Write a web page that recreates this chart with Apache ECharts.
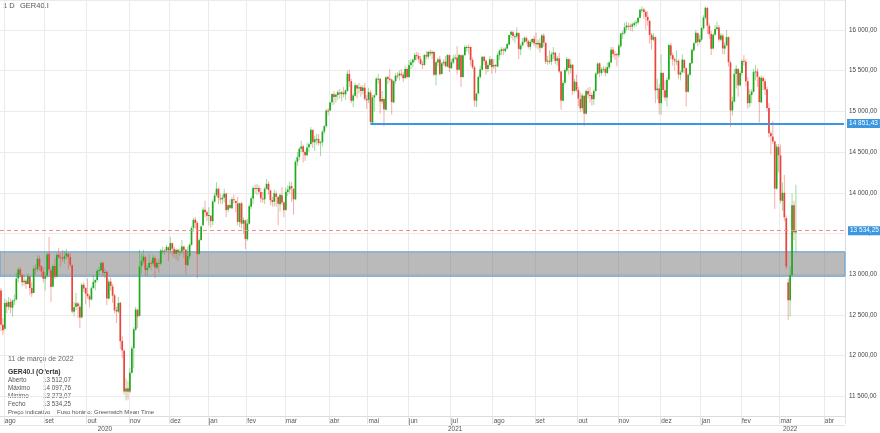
<!DOCTYPE html>
<html><head><meta charset="utf-8">
<script src="https://cdn.jsdelivr.net/npm/echarts@6.0.0/dist/echarts.min.js"></script>
<style>html,body{margin:0;padding:0;background:#fff}#c{width:880px;height:433px}</style>
</head><body><div id="c"></div>
<script>
// ---- DATA (rows: [open, close, low, high]) ----
const monthNames = ['jan','fev','mar','abr','mai','jun','jul','ago','set','out','nov','dez'];
const holidays = ['2020-12-24','2020-12-25','2020-12-31','2021-01-01','2021-04-02','2021-04-05','2021-12-24','2021-12-31','2022-04-15','2022-04-18'];
const firstDate = '2020-07-30';
const categoryCount = 439;
const yearLabelDates = ['2020-10-14','2021-07-05','2022-03-08'];
const supportLevel = 14851.43;
const supportFrom = '2021-05-04';
const lastPrice = 13534.25;
const zoneLow = 12975, zoneHigh = 13275;
const infoDate = '11 de março de 2022';
const infoSymbol = 'GER40.I (Oferta)';
const infoLabels = ['Aberto','Máximo','Mínimo','Fecho'];
const infoValues = [13512.07, 14097.76, 13273.07, 13534.25];

const jul2020 = [[12800,12379,12300,12830],[12380,12313,12253,12460]];
const aug2020 = [[12330,12647,12320,12700],[12650,12600,12520,12680],[12600,12660,12560,12720],[12660,12591,12520,12700],[12590,12675,12480,12690],
[12680,12687,12620,12750],[12690,12947,12680,13020],[12950,13058,12900,13080],[13060,12994,12960,13090],[12990,12901,12850,13010],
[12900,12920,12860,12990],[12920,12881,12820,12950],[12880,12977,12870,13010],[12970,12830,12740,12980],[12830,12765,12720,12900],
[12770,13067,12770,13100],[13070,13062,13000,13120],[13060,13190,13030,13230],[13190,13096,13040,13230],[13100,13033,12960,13110],[13030,12945,12900,13080]];
const sep2020 = [[12945,12974,12800,13020],[12980,13243,12960,13270],[13250,13057,13020,13460],[13050,12842,12660,13080],
[12850,13100,12840,13120],[13100,12968,12940,13190],[12970,13237,12960,13260],[13240,13209,13180,13320],[13210,13202,13090,13260],
[13200,13193,13150,13300],[13190,13218,13130,13280],[13220,13255,13180,13310],[13250,13208,13060,13260],[13210,13116,13090,13260],
[13110,12542,12520,13120],[12540,12594,12480,12660],[12600,12643,12560,12770],[12640,12606,12460,12660],[12600,12469,12340,12640],
[12470,12870,12460,12890],[12870,12825,12780,12900],[12830,12761,12630,12840]];
const oct2020 = [[12760,12731,12700,12950],[12730,12689,12590,12750],
[12690,12828,12680,12850],[12830,12906,12820,12990],[12900,12928,12800,12940],[12930,13042,12900,13060],[13040,13051,12990,13090],
[13050,13138,13040,13160],[13140,13019,12980,13150],[13020,13028,12950,13070],[13030,12703,12620,13040],[12700,12909,12690,12940],
[12910,12854,12800,12960],[12850,12736,12650,12880],[12740,12558,12520,12760],[12560,12543,12400,12600],[12540,12646,12520,12720],
[12650,12178,12080,12660],[12180,12064,11970,12240],[12060,11561,11520,12080],[11560,11598,11450,11720],[11600,11556,11460,11690]];
const nov2020 = [[11560,11789,11540,11850],[11790,12089,11780,12120],[12090,12325,11850,12350],[12320,12568,12300,12600],[12560,12480,12340,12580],
[12490,13096,12480,13300],[13100,13163,13010,13250],[13160,13217,13120,13300],[13210,13053,12980,13230],[13050,13077,12980,13110],
[13080,13138,13070,13250],[13140,13134,13050,13170],[13130,13202,13100,13240],[13200,13086,12950,13220],[13080,13137,13060,13180],
[13140,13127,13020,13190],[13130,13292,13110,13310],[13290,13290,13250,13340],[13290,13286,13240,13310],[13290,13335,13270,13360],[13330,13291,13160,13340]];
const dec2020 = [[13290,13382,13250,13460],[13380,13313,13220,13390],[13310,13252,13200,13340],[13250,13298,13180,13320],
[13300,13271,13160,13310],[13270,13278,13220,13320],[13280,13340,13250,13420],[13340,13296,13200,13350],[13300,13114,13000,13310],
[13110,13223,13100,13340],[13220,13362,13180,13380],[13360,13566,13350,13590],[13570,13667,13520,13690],[13670,13630,13560,13700],
[13630,13246,12950,13650],[13250,13418,13240,13440],[13420,13587,13410,13600],
[13600,13790,13590,13820],[13790,13761,13700,13900],[13760,13719,13650,13780]];
const jan2021 = [[13720,13727,13600,13820],[13720,13652,13570,13700],[13650,13892,13600,13920],[13890,13968,13880,14000],[13970,14050,13950,14131],
[14050,13937,13860,14060],[13930,13926,13870,13990],[13920,13940,13860,13980],[13940,13989,13880,14050],[13990,13788,13700,14000],
[13790,13848,13760,13860],[13850,13815,13800,13920],[13810,13921,13800,13950],[13920,13907,13870,13980],[13900,13874,13760,13900],
[13870,13643,13600,13950],[13640,13871,13580,13880],[13870,13621,13560,13890],[13620,13665,13500,13700],[13660,13433,13310,13670]];
const feb2021 = [[13430,13622,13410,13680],[13620,13835,13610,13860],[13830,13933,13800,13960],[13930,14060,13860,14080],[14060,14056,13990,14100],
[14050,14059,13970,14110],[14060,14011,13980,14090],[14010,13932,13880,14060],[13930,13921,13880,14010],[13920,14050,13860,14070],
[14050,14109,14040,14170],[14110,14033,13980,14140],[14030,13909,13850,14030],[13910,13886,13830,13950],[13890,13993,13830,14040],
[13990,13950,13830,14020],[13950,13865,13600,13910],[13860,13976,13770,13990],[13970,13879,13850,14070],[13880,13786,13700,13900]];
const mar2021 = [[13790,14012,13780,14060],[14010,14039,13960,14090],[14040,14080,13990,14140],[14080,14056,13890,14130],[14050,13920,13730,14050],
[13920,14380,13910,14400],[14380,14437,14330,14500],[14440,14540,14400,14560],[14540,14569,14500,14640],[14570,14502,14370,14590],
[14500,14461,14390,14520],[14460,14557,14450,14610],[14560,14596,14500,14620],[14600,14775,14580,14805],[14770,14621,14550,14780],
[14620,14657,14510,14700],[14660,14662,14590,14720],[14660,14610,14580,14720],[14610,14621,14450,14640],[14620,14749,14570,14770],
[14750,14818,14720,14830],[14820,15009,14800,15030],[15010,15008,14950,15040]];
const apr2021 = [[15010,15107,15000,15120],
[15110,15212,15080,15220],[15210,15176,15080,15250],[15180,15203,15110,15220],[15200,15234,15140,15260],
[15230,15215,15160,15270],[15210,15234,15120,15250],[15230,15209,15170,15300],[15210,15255,15140,15270],[15250,15460,15240,15500],
[15460,15368,15300,15510],[15370,15129,15100,15400],[15130,15195,15050,15220],[15190,15320,15180,15350],[15320,15280,15160,15330],
[15280,15296,15220,15350],[15300,15249,15180,15320],[15250,15292,15210,15320],[15290,15154,15130,15350],[15150,15136,15030,15200]];
const may2021 = [[15140,15237,15100,15290],[15230,14870,14840,15260],[14860,15171,14850,15200],[15170,15197,15000,15210],[15200,15400,15190,15420],
[15400,15400,15340,15460],[15400,15120,14970,15410],[15120,15150,15090,15250],[15150,15025,14816,15170],[15020,15417,15010,15430],
[15420,15397,15330,15440],[15400,15386,15360,15520],[15390,15113,14960,15400],[15110,15370,15100,15380],[15370,15437,15340,15470],
[15440,15437,15400,15480],[15440,15465,15380,15500],[15460,15451,15420,15520],[15450,15406,15360,15480],[15410,15520,15400,15560],[15520,15421,15400,15540]];
const jun2021 = [[15420,15568,15410,15630],[15570,15603,15520,15640],[15600,15633,15540,15650],[15630,15693,15600,15720],
[15690,15677,15630,15730],[15680,15641,15600,15720],[15640,15581,15570,15680],[15580,15571,15520,15620],[15570,15693,15560,15700],
[15690,15674,15640,15740],[15670,15730,15640,15740],[15730,15710,15680,15760],[15710,15728,15640,15750],[15730,15448,15430,15740],
[15450,15603,15320,15620],[15600,15636,15550,15660],[15640,15456,15440,15680],[15460,15589,15450,15610],[15590,15607,15560,15640],
[15610,15554,15540,15680],[15550,15691,15540,15700],[15690,15531,15480,15700]];
const jul2021 = [[15530,15603,15520,15640],[15600,15650,15580,15690],
[15650,15661,15630,15700],[15660,15511,15450,15800],[15510,15693,15500,15710],[15690,15420,15300,15700],[15420,15688,15410,15700],
[15690,15791,15680,15810],[15790,15790,15730,15810],[15790,15788,15700,15820],[15790,15629,15560,15800],[15630,15540,15520,15660],
[15540,15133,15060,15560],[15130,15216,15050,15230],[15220,15422,15210,15440],[15420,15514,15400,15560],[15510,15669,15500,15680],
[15670,15618,15570,15680],[15620,15519,15450,15640],[15520,15570,15480,15600],[15570,15640,15550,15680],[15640,15544,15460,15650]];
const aug2021 = [[15550,15568,15520,15640],[15570,15555,15470,15580],[15550,15692,15540,15720],[15690,15745,15630,15760],[15740,15761,15690,15790],
[15760,15745,15690,15780],[15740,15770,15720,15790],[15770,15826,15760,15840],[15820,15937,15810,15940],[15940,15977,15900,15990],
[15970,15925,15870,15990],[15920,15921,15840,15950],[15920,15965,15890,16030],[15960,15766,15640,15970],[15760,15808,15690,15830],
[15810,15852,15800,15900],[15850,15905,15840,15920],[15900,15860,15830,15920],[15860,15793,15770,15880],[15790,15852,15750,15880],
[15850,15888,15830,15900],[15890,15835,15800,15930]];
const sep2021 = [[15840,15824,15780,15970],[15820,15841,15760,15880],[15840,15781,15720,15900],
[15780,15932,15770,15950],[15930,15843,15790,15960],[15840,15610,15580,15850],[15610,15623,15570,15680],[15620,15610,15580,15750],
[15610,15701,15570,15730],[15700,15722,15640,15790],[15720,15616,15580,15730],[15620,15651,15560,15680],[15650,15490,15470,15720],
[15490,15132,15020,15500],[15130,15349,15120,15380],[15350,15506,15330,15530],[15500,15644,15480,15670],[15640,15532,15450,15650],
[15530,15574,15470,15640],[15570,15249,15200,15580],[15250,15365,15230,15400],[15360,15260,15240,15450]];
const oct2021 = [[15260,15156,15060,15300],
[15150,15036,14990,15230],[15040,15195,15000,15220],[15190,14973,14818,15200],[14970,15250,14960,15270],[15250,15206,15160,15290],
[15200,15199,15110,15300],[15200,15147,15070,15230],[15150,15250,15080,15270],[15250,15463,15240,15480],[15460,15587,15450,15600],
[15590,15474,15420,15600],[15470,15516,15440,15540],[15520,15523,15480,15560],[15520,15473,15430,15550],[15470,15543,15460,15600],
[15540,15600,15520,15620],[15600,15757,15590,15790],[15760,15705,15660,15790],[15700,15696,15630,15740],[15700,15689,15550,15720]];
const nov2021 = [[15690,15806,15660,15830],[15800,15955,15780,15960],[15950,15960,15890,15990],[15960,16030,15940,16090],[16030,16054,15990,16100],
[16050,16047,16000,16090],[16050,16040,15990,16080],[16040,16068,15980,16090],[16060,16083,16030,16110],[16080,16094,16040,16120],
[16090,16148,16070,16160],[16150,16248,16140,16260],[16250,16251,16210,16290],[16250,16221,16130,16270],[16220,16160,16000,16240],
[16160,16115,16050,16230],[16110,15937,15830,16120],[15940,15878,15760,15960],[15880,15917,15860,15960],[15910,15257,15100,15920],
[15260,15280,15150,15400],[15280,15100,14960,15340]];
const dec2021 = [[15100,15473,14960,15700],[15470,15263,15170,15480],[15260,15170,15130,15380],
[15170,15387,15060,15420],[15390,15813,15380,15830],[15810,15687,15640,15840],[15690,15639,15560,15720],[15640,15623,15500,15660],
[15620,15621,15570,15750],[15620,15453,15400,15640],[15450,15476,15380,15500],[15480,15636,15470,15700],[15630,15532,15470,15640],
[15530,15239,15060,15540],[15240,15448,15230,15470],[15450,15593,15430,15600],[15590,15756,15580,15770],
[15750,15837,15730,15850],[15840,15964,15830,16000],[15960,15853,15800,15970],[15850,15885,15830,15940]];
const jan2022 = [[15880,16021,15860,16040],[16020,16152,16000,16180],[16150,16271,16130,16285],[16270,16052,15950,16280],[16050,15948,15890,16080],
[15950,15768,15690,15990],[15770,15941,15760,15960],[15940,16010,15930,16060],[16010,16031,15990,16100],[16030,15883,15850,16060],
[15880,15933,15860,15960],[15930,15773,15700,15950],[15770,15810,15700,15850],[15810,15912,15800,16000],[15910,15603,15550,15920],
[15600,15011,14806,15620],[15010,15123,14950,15180],[15120,15460,15110,15520],[15460,15524,15280,15570],[15520,15318,15180,15530],[15320,15471,15300,15500]];
const feb2022 = [[15470,15619,15440,15640],[15620,15613,15560,15690],[15610,15368,15310,15640],[15370,15100,15030,15420],
[15100,15206,15050,15270],[15200,15242,15100,15270],[15240,15482,15230,15520],[15480,15490,15380,15570],[15490,15425,15300,15530],
[15420,15114,14860,15430],[15110,15412,15100,15440],[15410,15370,15260,15430],[15370,15268,15200,15400],[15270,15042,15000,15300],
[15040,14731,14680,15100],[14730,14693,14470,14750],[14690,14631,14600,14880],[14630,14052,13800,14640],[14050,14567,14040,14600],
[14560,14461,14250,14600]];
const mar2022 = [[14460,13905,13870,14590],[13900,14000,13780,14130],[14000,13698,13650,14220],[13690,13094,13060,13720],
[12900,12680,12440,12950],[12680,12990,12480,13100],[12990,13848,12970,13990],[13848,13515,13420,13900],[13512.07,13534.25,13273.07,14097.76]];

const monthData = [['2020-07',jul2020],['2020-08',aug2020],['2020-09',sep2020],['2020-10',oct2020],['2020-11',nov2020],['2020-12',dec2020],
['2021-01',jan2021],['2021-02',feb2021],['2021-03',mar2021],['2021-04',apr2021],['2021-05',may2021],['2021-06',jun2021],
['2021-07',jul2021],['2021-08',aug2021],['2021-09',sep2021],['2021-10',oct2021],['2021-11',nov2021],['2021-12',dec2021],
['2022-01',jan2022],['2022-02',feb2022],['2022-03',mar2022]];

// ---- trading-day categories ----
function buildCalendar(start, count){
  const out=[]; const d=new Date(start+'T00:00:00Z');
  while(out.length<count){
    const wd=d.getUTCDay(); const s=d.toISOString().slice(0,10);
    if(wd!==0&&wd!==6&&holidays.indexOf(s)<0) out.push(s);
    d.setUTCDate(d.getUTCDate()+1);
  }
  return out;
}
const cats = buildCalendar(firstDate, categoryCount);
const candles = [];
monthData.forEach(([key, rows])=>{
  const idxs = []; cats.forEach((c,i)=>{ if(c.slice(0,7)===key) idxs.push(i); });
  rows.forEach((r,k)=>{ candles.push([idxs[k], r[0], r[1], r[2], r[3]]); });
});
function isMonthStart(i){ return i>0 && cats[i].slice(5,7)!==cats[i-1].slice(5,7); }
function fmtNum(v){ const s=Number(v).toFixed(2).split('.'); return s[0].replace(/\B(?=(\d{3})+(?!\d))/g,' ')+','+s[1]; }

const UP='#1dab1d', DOWN='#e8453b', UPW='rgba(40,175,40,0.45)', DOWNW='rgba(235,70,60,0.45)';
function renderCandle(params, api){
  const i=api.value(0), o=api.value(1), c=api.value(2), l=api.value(3), h=api.value(4);
  const pO=api.coord([i,o]), pC=api.coord([i,c]), pL=api.coord([i,l]), pH=api.coord([i,h]);
  const x=pO[0], up=c>=o, bw=1.7;
  const top=Math.min(pO[1],pC[1]), hgt=Math.max(1,Math.abs(pO[1]-pC[1]));
  return {type:'group', children:[
    {type:'line', shape:{x1:x,y1:pH[1],x2:x,y2:pL[1]}, style:{stroke:up?UPW:DOWNW, lineWidth:1}},
    {type:'rect', shape:{x:x-bw/2,y:top,width:bw,height:hgt}, style:{fill:up?UP:DOWN}}
  ]};
}

const FONT='Liberation Sans, Arial, sans-serif';
const chart = echarts.init(document.getElementById('c'), null, {renderer:'canvas'});
function blueLbl(val){ return {show:true, position:'end', distance:3, formatter:fmtNum(val), backgroundColor:'#3a97e0', color:'#fff', fontSize:6.5, fontFamily:FONT, padding:[1,2,1,2]}; }
const infoGraphics = [
  {type:'text', left:3, top:2, style:{text:'1 D', fontSize:7.5, fill:'#555', fontFamily:FONT}},
  {type:'text', left:20, top:2, style:{text:'GER40.I', fontSize:7.5, fill:'#555', fontFamily:FONT}},
  {type:'text', left:8, top:356, style:{text:infoDate, fontSize:7, fill:'#666', fontFamily:FONT}},
  {type:'text', left:8, top:369, style:{text:infoSymbol, fontSize:6.8, fontWeight:'bold', fill:'#333', fontFamily:FONT}},
  {type:'text', left:8, top:409, style:{text:'Preço indicativo', fontSize:6, fill:'#555', fontFamily:FONT}},
  {type:'text', left:57, top:409, style:{text:'Fuso horário: Greenwich Mean Time', fontSize:6, fill:'#555', fontFamily:FONT}}
];
infoLabels.forEach((lab,k)=>{
  infoGraphics.push({type:'text', left:8, top:377+k*8, style:{text:lab, fontSize:6.3, fill:'#555', fontFamily:FONT}});
  infoGraphics.push({type:'text', left:43, top:377+k*8, style:{text:fmtNum(infoValues[k]), fontSize:6.3, fill:'#555', fontFamily:FONT}});
});

chart.setOption({
  animation:false,
  backgroundColor:'#fff',
  grid:{left:0, right:32, top:0, bottom:15},
  xAxis:[{
    type:'category', data:cats, boundaryGap:true,
    axisLine:{show:true, lineStyle:{color:'#dcdcdc'}},
    axisTick:{show:true, interval:isMonthStart, length:8, lineStyle:{color:'#e2e2e2'}},
    axisLabel:{interval:isMonthStart, formatter:(v)=>monthNames[+v.slice(5,7)-1], fontSize:6.5, color:'#555', margin:2, align:'left', fontFamily:FONT},
    splitLine:{show:true, interval:isMonthStart, lineStyle:{color:'#ebebeb'}}
  },{
    type:'category', data:cats, position:'bottom', offset:9, boundaryGap:true,
    axisLine:{show:true, lineStyle:{color:'#e6e6e6'}}, axisTick:{show:false}, splitLine:{show:false},
    axisLabel:{interval:(i,v)=>yearLabelDates.indexOf(v)>=0, formatter:(v)=>v.slice(0,4), fontSize:6.5, color:'#555', margin:1, fontFamily:FONT}
  }],
  yAxis:{
    type:'value', position:'right', min:11259, max:16367, splitNumber:10,
    axisLine:{show:true, lineStyle:{color:'#dcdcdc'}}, axisTick:{show:false},
    axisLabel:{formatter:fmtNum, fontSize:6.3, color:'#444', margin:4, showMinLabel:false, showMaxLabel:false, fontFamily:FONT},
    splitLine:{show:true, lineStyle:{color:'#ebebeb'}}
  },
  graphic: infoGraphics,
  series:[{
    type:'custom', name:'GER40.I', xAxisIndex:0, yAxisIndex:0, z:2,
    renderItem:renderCandle, dimensions:['i','open','close','low','high'],
    encode:{x:0, y:[1,2,3,4]}, data:candles, clip:true
  },{
    type:'line', data:[], z:5, silent:true,
    markArea:{silent:true, itemStyle:{color:'rgba(118,118,118,0.5)', borderColor:'#5a9fd8', borderWidth:1},
      data:[[{yAxis:zoneLow},{yAxis:zoneHigh}]]},
    markLine:{silent:true, symbol:['none','none'], animation:false,
      data:[
        [{coord:[supportFrom, supportLevel], lineStyle:{color:'#3a97e0', width:2, type:'solid'}, label:blueLbl(supportLevel)},
         {coord:[cats[cats.length-1], supportLevel]}],
        {yAxis:lastPrice, lineStyle:{color:'#f08c8c', width:1, type:[4,3]}, label:blueLbl(lastPrice)}
      ]}
  }]
});
</script></body></html>
